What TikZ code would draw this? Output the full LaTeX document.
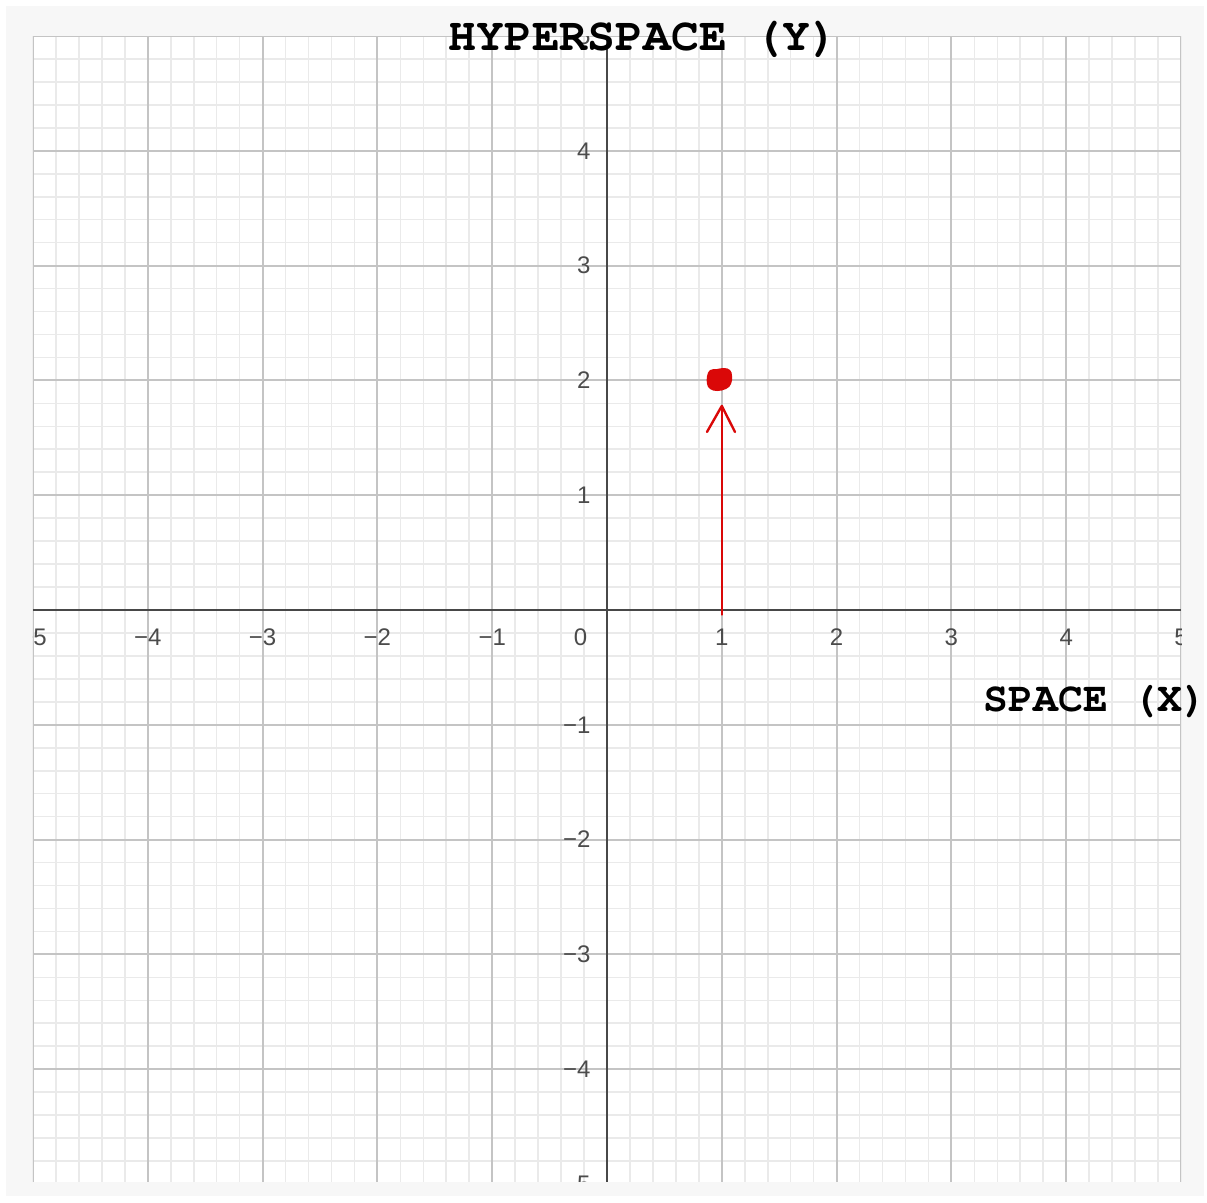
\documentclass[tikz,border=0pt]{standalone}
\usepackage{fontspec}
\setmainfont{Liberation Sans}
\newfontfamily\courb{texgyrecursor-bold.otf}
\definecolor{panel}{RGB}{247,247,247}
\definecolor{minorc}{RGB}{234,234,234}
\definecolor{majorc}{RGB}{196,196,196}
\definecolor{axisc}{RGB}{72,72,72}
\definecolor{labelc}{RGB}{75,75,75}
\definecolor{redc}{RGB}{218,8,8}
\tikzset{
  minorline/.style={draw=minorc,line width=0.8pt},
  majorline/.style={draw=majorc,line width=1pt},
  axisline/.style={draw=axisc,line width=1.2pt},
  ticklab/.style={text=labelc,font=\fontsize{12}{14}\selectfont,inner sep=0pt},
  axtitle/.style={inner sep=0pt,anchor=base},
  redline/.style={draw=redc,line width=1.2pt,line cap=round,line join=round}
}
\begin{document}
\begin{tikzpicture}[x=57.4pt,y=57.4pt]
\useasboundingbox (-5.2875,-5.1568) rectangle (5.2265,5.3136);
\fill[white] (-5.2875,-5.1568) rectangle (5.2265,5.3136);
\fill[panel] (-5.235,-5.105) rectangle (5.20,5.261);
\fill[white] (-5,-4.98) rectangle (5,5);
\begin{scope}
\clip (-5,-4.98) rectangle (5,5);
\draw[minorline] (-5,-5) grid[step=0.2] (5,5);
\draw[majorline] (-5,-5) grid[step=1] (5,5);
\draw[axisline] (-5,0) -- (5,0);
\draw[axisline] (0,-5) -- (0,5);
\foreach \v in {-5,-4,-3,-2,-1,1,2,3,4,5}{
  \pgfmathtruncatemacro{\w}{\v}
  \ifnum\w<0
    \node[ticklab] (xl\w) at (\v,-0.235) {−\the\numexpr-\w\relax};
    \node[ticklab,anchor=east] (yl\w) at (-0.14,\v) {−\the\numexpr-\w\relax};
  \else
    \node[ticklab] (xl\w) at (\v,-0.235) {\w};
    \node[ticklab,anchor=east] (yl\w) at (-0.14,\v) {\w};
  \fi
}
\node[ticklab] (zero) at (-0.23,-0.235) {0};
\end{scope}
\node[axtitle,font=\courb\fontsize{23.2}{27}\selectfont] (ytitle) at (0.318,4.878) {HYPERSPACE (Y)};
\node[axtitle,font=\courb\fontsize{20.7}{24}\selectfont] (xtitle) at (4.255,-0.888) {SPACE (X)};
% red arrow
\coordinate (base) at (1,-0.04);
\coordinate (tip) at (1,1.777);
\coordinate (armL) at (0.871,1.551);
\coordinate (armR) at (1.115,1.551);
\draw[redline] (base) -- (tip);
\draw[redline] (armL) -- (tip) -- (armR);
% red blob
\coordinate (dot) at (0.976,2.012);
\begin{scope}[shift={(dot)},x=0.5pt,y=-0.5pt]
\fill[redc] plot[smooth cycle,tension=0.7] coordinates {(-12,-3) (-9,-9) (-2,-10) (5,-11) (11,-9) (13,-3) (12,5) (7,10) (-2,12) (-9,10) (-12,5)};
\end{scope}
\end{tikzpicture}
\end{document}
